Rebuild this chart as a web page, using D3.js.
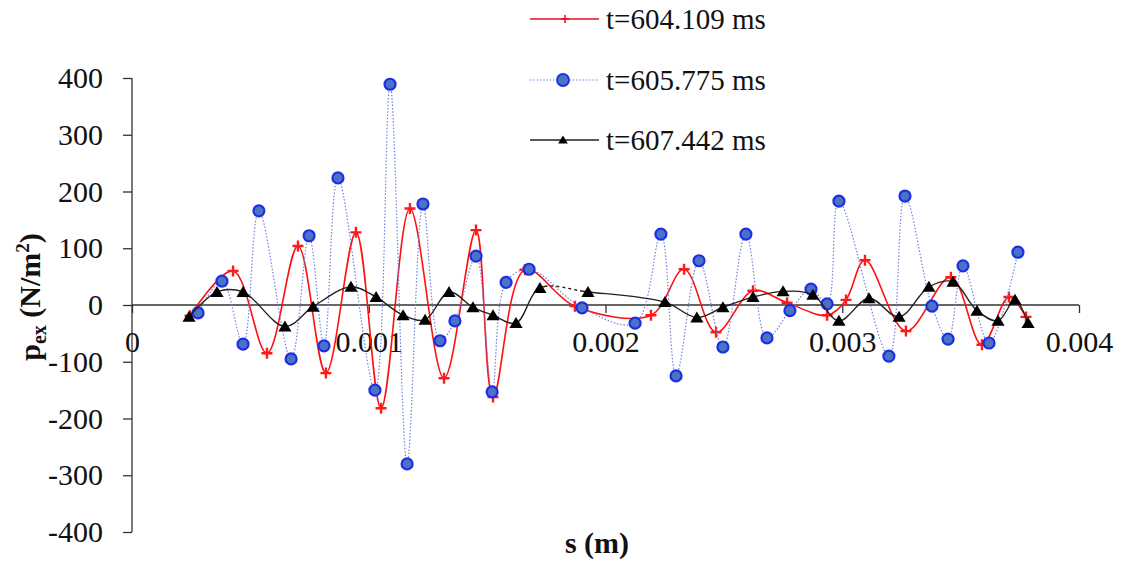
<!DOCTYPE html>
<html><head><meta charset="utf-8">
<script src="https://cdn.jsdelivr.net/npm/d3@7"></script>
<style>body{margin:0;background:#fff}svg{display:block}svg text{font-family:'Liberation Serif','Times New Roman',Times,serif !important}</style>
</head><body><svg id="c" width="1124" height="570"></svg>
<script>
const seriesNames = ["t=604.109 ms","t=605.775 ms","t=607.442 ms"];
const xTicks = [0,0.001,0.002,0.003,0.004];
const yTicks = [-400,-300,-200,-100,0,100,200,300,400];
const sRed = [0.000245,0.000427,0.00057,0.000701,0.000819,0.000946,0.001052,0.001174,0.001318,0.001453,0.001525,0.00166,0.001871,0.002192,0.002332,0.002467,0.002623,0.002767,0.002936,0.003016,0.003096,0.003269,0.003459,0.00359,0.003704,0.003776];
const pRed = [-19,60,-85,104,-120,128,-182,170,-129,132,-162,62,-2,-18,63,-48,25,4,-18,9,79,-46,49,-70,14,-21];
const sBlue = [0.000279,0.00038,0.000469,0.000536,0.000672,0.000748,0.000811,0.00087,0.001026,0.00109,0.001162,0.001229,0.001301,0.001364,0.001453,0.001521,0.00158,0.001677,0.001901,0.002125,0.002234,0.002298,0.002395,0.002496,0.002593,0.002682,0.002779,0.002868,0.002936,0.002986,0.003197,0.003265,0.003379,0.003447,0.00351,0.00362,0.003742];
const pBlue = [-14,42,-69,166,-95,122,-72,224,-150,389,-280,178,-63,-28,86,-153,40,63,-5,-32,125,-125,78,-74,125,-58,-10,28,2,183,-90,192,-2,-60,69,-67,93];
const sBlack = [0.000241,0.000359,0.000469,0.000646,0.000765,0.000925,0.001031,0.001145,0.001238,0.001339,0.00144,0.001525,0.001622,0.001723,0.001926,0.002251,0.002386,0.002496,0.002623,0.00275,0.002876,0.002986,0.003113,0.00324,0.003366,0.003468,0.003569,0.003658,0.00373,0.003785];
const pBlack = [-21,23,23,-38,-3,32,14,-18,-26,23,-4,-18,-32,30,23,5,-22,-4,14,24,18,-28,12,-21,32,41,-10,-28,9,-32];
const blackDashedFrom = 13; // index of segment drawn dashed (to index+1)

const FONT = "'Liberation Serif','Times New Roman',Times,serif";
const svg = d3.select("#c");
const x = d3.scaleLinear().domain([0,0.004]).range([132,1079]);
const y = d3.scaleLinear().domain([-400,400]).range([532,78]);

// y axis
const yAx = svg.append("g").attr("transform","translate(132,0)")
  .call(d3.axisLeft(y).tickValues(yTicks).tickSize(9).tickPadding(20).tickFormat(d=>String(d)));
yAx.attr("font-family",FONT);
yAx.select(".domain").attr("stroke","#333").attr("stroke-width",1.3).attr("d","M0,78V532");
yAx.selectAll(".tick line").attr("stroke","#333").attr("stroke-width",1.3);
yAx.selectAll("text").attr("font-size",30).attr("fill","#111").style("font-family",FONT);

// x axis at y=0
const xAx = svg.append("g").attr("transform",`translate(0,${y(0)})`)
  .call(d3.axisBottom(x).tickValues(xTicks).tickSize(8).tickPadding(18).tickFormat(d=>d===0?"0":d3.format(".3f")(d)));
xAx.attr("font-family",FONT);
xAx.select(".domain").attr("stroke","#333").attr("stroke-width",1.3).attr("d","M132,0H1079");
xAx.selectAll(".tick line").attr("stroke","#333").attr("stroke-width",1.3);
xAx.selectAll("text").attr("font-size",30).attr("fill","#111").style("font-family",FONT);

const curve = d3.curveCatmullRom.alpha(0.5);
function mk(s,p){return s.map((v,i)=>[v,p[i]]);}
const line = d3.line().x(d=>x(d[0])).y(d=>y(d[1])).curve(curve);

// red series
const red = mk(sRed,pRed);
svg.append("path").attr("d",line(red)).attr("fill","none").attr("stroke","#ff1010").attr("stroke-width",1.6);
const crossPath = (cx,cy,r)=>`M${cx-r},${cy}H${cx+r}M${cx},${cy-r}V${cy+r}`;
svg.append("g").selectAll("path").data(red).join("path")
  .attr("d",d=>crossPath(x(d[0]),y(d[1]),5.5)).attr("stroke","#ff1a1a").attr("stroke-width",2.4).attr("fill","none");

// blue series
const blue = mk(sBlue,pBlue);
svg.append("path").attr("d",line(blue)).attr("fill","none").attr("stroke","#6d82e0").attr("stroke-width",1.2).attr("stroke-dasharray","1.5,1.8");
svg.append("g").selectAll("circle").data(blue).join("circle")
  .attr("cx",d=>x(d[0])).attr("cy",d=>y(d[1])).attr("r",5.5)
  .attr("fill","#4d72c4").attr("stroke","#1b30e6").attr("stroke-width",2.2);

// black series
const black = mk(sBlack,pBlack);
const bp = svg.append("path").attr("d",line(black)).attr("fill","none").attr("stroke","#222").attr("stroke-width",1.4);
(function(){
  const node = bp.node(), total = node.getTotalLength();
  const xa = x(sBlack[blackDashedFrom]), xb = x(sBlack[blackDashedFrom+1]);
  function lenAtX(tx){ let lo=0, hi=total; for(let k=0;k<40;k++){const m=(lo+hi)/2; if(node.getPointAtLength(m).x<tx) lo=m; else hi=m;} return lo; }
  const L1 = lenAtX(xa+4), L2 = lenAtX(xb-4);
  const arr=[L1,0]; let L=L1;
  while(L+6<L2){arr.push(3,3); L+=6;}
  arr.push(total); arr.push(0);
  bp.attr("stroke-dasharray",arr.join(" "));
})();
const triPath = (cx,cy,w)=>`M${cx},${cy-w*0.55}L${cx+w*0.6},${cy+w*0.45}L${cx-w*0.6},${cy+w*0.45}Z`;
svg.append("g").selectAll("path").data(black).join("path")
  .attr("d",d=>triPath(x(d[0]),y(d[1]),11)).attr("fill","#000");

// legend
const lg = svg.append("g");
const legY = [19,80,140];
seriesNames.forEach((n,i)=>{
  const ly = legY[i];
  const l = lg.append("line").attr("x1",530).attr("x2",599).attr("y1",ly).attr("y2",ly);
  if(i===0){ l.attr("stroke","#e01020").attr("stroke-width",1.5);
    lg.append("path").attr("d",crossPath(565,ly,4)).attr("stroke","#e01020").attr("stroke-width",1.5);}
  if(i===1){ l.attr("stroke","#6d82e0").attr("stroke-width",1.2).attr("stroke-dasharray","1.5,1.8");
    lg.append("circle").attr("cx",563).attr("cy",ly).attr("r",6).attr("fill","#4d72c4").attr("stroke","#1b30e6").attr("stroke-width",1.8);}
  if(i===2){ l.attr("stroke","#222").attr("stroke-width",1.4);
    lg.append("path").attr("d",triPath(563,ly,8)).attr("fill","#000");}
  lg.append("text").attr("x",606).attr("y",ly+10).attr("font-size",29).attr("fill","#111").style("font-family",FONT).text(n);
});

// axis titles
const yt = svg.append("text").attr("transform","translate(40,297) rotate(-90)")
  .attr("text-anchor","middle").attr("font-size",30).attr("font-weight","bold").attr("fill","#111").style("font-family",FONT);
yt.append("tspan").text("p");
yt.append("tspan").attr("font-size",20).attr("dy",6).text("ex");
yt.append("tspan").attr("dy",-6).text(" (N/m");
yt.append("tspan").attr("font-size",19).attr("dy",-11).text("2");
yt.append("tspan").attr("dy",11).text(")");

svg.append("text").attr("x",597).attr("y",553).attr("text-anchor","middle").attr("font-size",30)
  .attr("font-weight","bold").attr("fill","#111").style("font-family",FONT).text("s (m)");
</script></body></html>
